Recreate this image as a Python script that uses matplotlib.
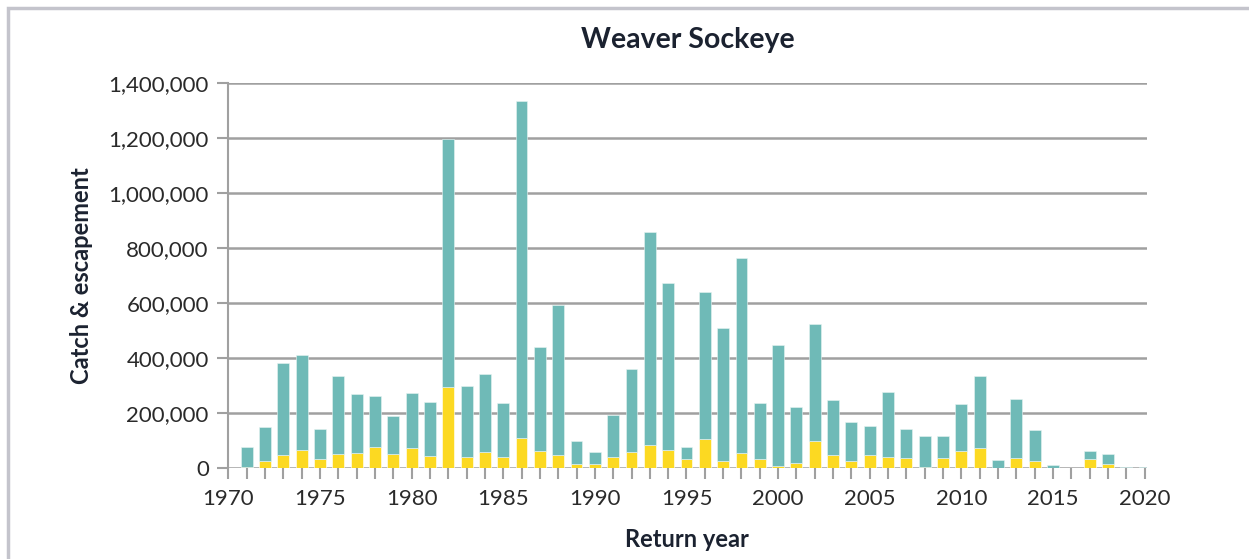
import matplotlib
matplotlib.use("Agg")
import matplotlib.pyplot as plt
from matplotlib.ticker import FuncFormatter, MultipleLocator
from matplotlib.patches import Rectangle

years = list(range(1971, 2021))
catch_escapement_total = [
    76000, 147000, 380000, 409000, 142000, 332000, 267000, 262000, 189000, 270000,
    239000, 1196000, 297000, 341000, 235000, 1334000, 439000, 592000, 98000, 56000,
    192000, 360000, 858000, 670000, 74000, 639000, 508000, 764000, 236000, 445000,
    222000, 522000, 246000, 166000, 153000, 275000, 141000, 115000, 115000, 232000,
    333000, 29000, 250000, 137000, 10000, 0, 62000, 50000, 2000, 1500,
]
yellow_part = [
    2000, 24000, 47000, 64000, 30000, 50000, 53000, 74000, 50000, 73000,
    41000, 293000, 39000, 58000, 38000, 109000, 62000, 47000, 14500, 14500,
    39000, 58000, 84000, 64000, 32000, 104000, 24000, 54500, 33000, 6000,
    18000, 98000, 47000, 24000, 46000, 38000, 35000, 1000, 35000, 61000,
    72000, 0, 35000, 23000, 0, 0, 33000, 13000, 0, 0,
]
teal_part = [t - y for t, y in zip(catch_escapement_total, yellow_part)]

TEAL = "#6FBAB7"
YELLOW = "#FCD922"
GRID = "#A0A0A0"
DARK = "#1B2230"
FONT = "Lato"

fig = plt.figure(figsize=(12.49, 5.59), dpi=100)
ax = fig.add_axes([228.3 / 1249, 1 - 467.7 / 559, (1146.5 - 228.3) / 1249, (467.7 - 82.7) / 559])

ax.bar(years, yellow_part, width=0.65, color=YELLOW, edgecolor="white", linewidth=0.4, zorder=3)
ax.bar(years, teal_part, bottom=yellow_part, width=0.65, color=TEAL, edgecolor="#E8F4F3",
       linewidth=0.4, zorder=3)

ax.set_xlim(1970, 2020.1)
ax.set_ylim(0, 1400000)
ax.yaxis.set_major_locator(MultipleLocator(200000))
ax.xaxis.set_major_locator(MultipleLocator(5))
ax.xaxis.set_minor_locator(MultipleLocator(1))
ax.yaxis.set_major_formatter(FuncFormatter(lambda v, p: f"{int(v):,}"))

ax.grid(axis="y", color=GRID, linewidth=1.8, zorder=0)
ax.set_axisbelow(True)
for s in ["top", "right", "bottom"]:
    ax.spines[s].set_visible(False)
ax.spines["left"].set_color(GRID)
ax.spines["left"].set_linewidth(1.5)

ax.tick_params(axis="x", which="both", length=8, width=1.5, color=GRID, labelsize=16,
               labelcolor="#2a2a2a", pad=7)
ax.tick_params(axis="y", length=8, width=1.5, color=GRID, labelsize=16, labelcolor="#2a2a2a", pad=6)
for lab in ax.get_xticklabels() + ax.get_yticklabels():
    lab.set_fontfamily(FONT)

ax.set_title("Weaver Sockeye", fontsize=20.5, fontweight="bold", color=DARK, family=FONT, pad=25)
ax.set_xlabel("Return year", fontsize=17, fontweight="bold", color=DARK, family=FONT, labelpad=14)
ax.set_ylabel("Catch & escapement", fontsize=17, fontweight="bold", color=DARK, family=FONT, labelpad=11)

fig.patches.append(Rectangle((8 / 1249, -0.1), 1.2, 1 - 8 / 559 + 0.1, transform=fig.transFigure,
                             fill=False, edgecolor="#C4C4CC", linewidth=2.5))

fig.savefig("out.png", dpi=100)
